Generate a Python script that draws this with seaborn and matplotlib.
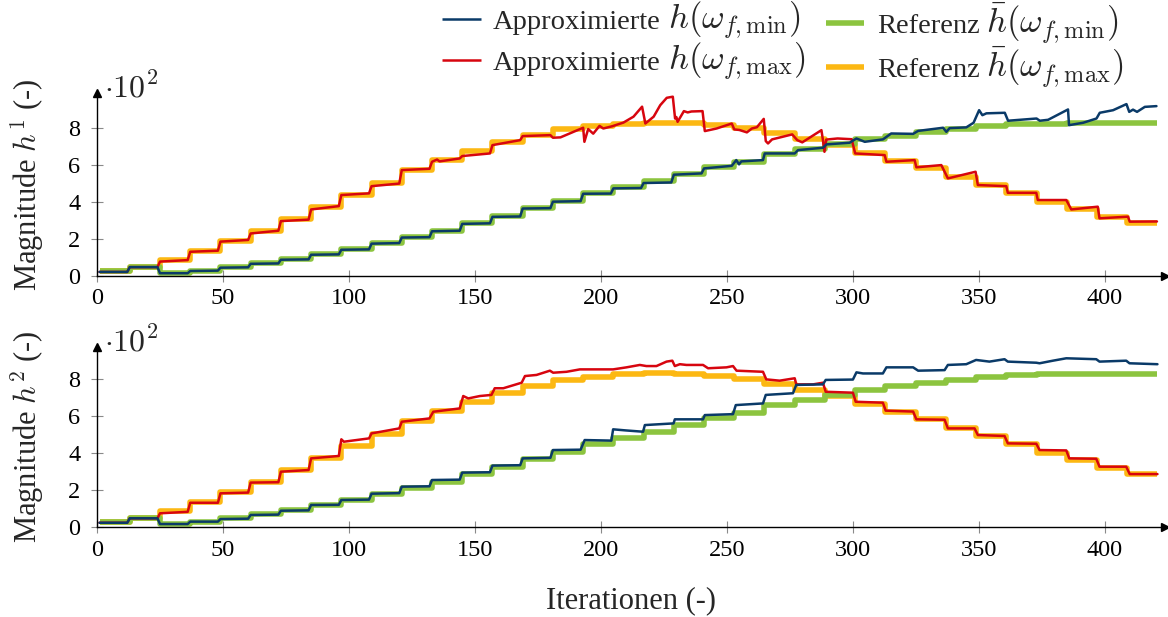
import numpy as np
import pandas as pd
import matplotlib
matplotlib.use("Agg")
import matplotlib.pyplot as plt
from matplotlib.lines import Line2D
from matplotlib.offsetbox import (AnchoredOffsetbox, DrawingArea, HPacker,
                                  TextArea, VPacker)
import seaborn as sns

# Reference magnitudes (in units of 10^2), one value per 12-iteration block
ref_min = [0.25, 0.5, 0.17, 0.29, 0.48, 0.7, 0.9, 1.17, 1.44, 1.78, 2.12, 2.45,
           2.85, 3.24, 3.69, 4.07, 4.47, 4.79, 5.15, 5.51, 5.88, 6.18, 6.58,
           6.88, 7.14, 7.41, 7.6, 7.8, 7.95, 8.1, 8.2, 8.25, 8.27, 8.28, 8.28]
ref_max = [0.25, 0.5, 0.85, 1.37, 1.9, 2.45, 3.1, 3.75, 4.4, 5.05, 5.73, 6.27,
           6.77, 7.26, 7.62, 7.93, 8.12, 8.25, 8.3, 8.28, 8.16, 7.98, 7.71,
           7.39, 7.08, 6.67, 6.24, 5.82, 5.37, 4.92, 4.47, 4.02, 3.62, 3.21, 2.85]
block_edges = np.arange(1, 422, 12)

# Approximated magnitude h^1 (vertices: iteration, value in 10^2)
h1_min_it = [1, 12, 13, 24, 25, 36, 37, 48, 49, 60, 61, 72, 73, 84, 85, 96, 97, 108,
             109, 120, 121, 132, 133, 144, 145, 156, 157, 168, 169, 180, 181, 192,
             193, 204, 205, 216, 217, 228, 229, 240, 241, 252, 253.8, 254.9, 255.8,
             264.4, 265.1, 277, 278.3, 288.2, 289.6, 298.8, 301.5, 304.8, 312, 315.3,
             324, 326, 335.9, 337.2, 338.5, 345.1, 348, 350.2, 351.5, 353.1, 360.4,
             361.7, 373, 374.3, 377.6, 385.5, 385.9, 391.5, 396.8, 398.1, 403.4,
             408.7, 409.8, 411.3, 412.9, 416, 420.6]
h1_min_val = [0.22, 0.22, 0.48, 0.48, 0.15, 0.15, 0.27, 0.29, 0.45, 0.47, 0.66, 0.68,
              0.88, 0.9, 1.15, 1.17, 1.42, 1.44, 1.75, 1.78, 2.08, 2.1, 2.42, 2.45,
              2.82, 2.85, 3.2, 3.22, 3.65, 3.67, 4.02, 4.05, 4.45, 4.46, 4.74, 4.76,
              5.03, 5.06, 5.48, 5.55, 5.82, 5.96, 6.27, 6.04, 6.2, 6.27, 6.63, 6.63,
              6.81, 6.94, 7.12, 7.21, 7.44, 7.26, 7.39, 7.71, 7.69, 7.85, 8.02, 7.8,
              8.0, 8.04, 8.29, 8.97, 8.7, 8.8, 8.83, 8.4, 8.52, 8.4, 8.45, 9.01, 8.16,
              8.29, 8.52, 8.83, 8.97, 9.3, 8.88, 9.0, 8.88, 9.15, 9.19]

h1_max_it = [1, 12, 13, 24, 25, 36, 37, 48, 49, 60, 61, 72, 73, 84, 85, 96, 97, 108,
             109, 120, 121, 132, 133, 135, 136, 144, 145, 156, 157, 168, 169, 180,
             181, 184, 193, 193.5, 195, 197, 199.5, 201, 204.5, 209, 213, 216.4,
             217.7, 221, 223.6, 226.2, 228.6, 229.5, 230, 230.5, 233, 234.5, 236,
             240.4, 241.3, 246, 252, 253, 255, 258, 260, 262, 264.7, 265.5, 266.4,
             268, 276, 278, 280, 287.6, 288.2, 288.8, 289.5, 294, 299.6, 301, 312.7,
             313.4, 324.6, 325.3, 335.2, 337.8, 348.8, 349.7, 361, 361.6, 372.9,
             373.5, 384.8, 386.8, 397.3, 398, 409.3, 410, 420.8]
h1_max_val = [0.22, 0.22, 0.48, 0.48, 0.78, 0.86, 1.31, 1.37, 1.86, 1.95, 2.3, 2.45,
              2.97, 3.05, 3.6, 3.78, 4.38, 4.47, 4.86, 5.0, 5.73, 5.8, 6.18, 6.3, 6.2,
              6.36, 6.49, 6.63, 7.08, 7.35, 7.57, 7.62, 7.48, 7.5, 8.02, 7.26, 7.95,
              7.7, 8.12, 7.98, 8.1, 8.3, 8.62, 9.16, 8.25, 8.62, 9.24, 9.64, 9.7,
              8.52, 8.6, 8.34, 8.92, 8.85, 8.9, 8.92, 7.84, 7.98, 8.25, 7.93, 7.9,
              7.77, 7.98, 8.05, 8.5, 7.3, 7.17, 7.39, 7.66, 7.35, 7.23, 7.89, 7.35,
              6.72, 7.38, 7.44, 7.4, 6.63, 6.54, 6.18, 6.27, 5.88, 6.0, 5.28, 5.64,
              4.92, 4.86, 4.5, 4.5, 4.11, 4.11, 3.6, 3.75, 3.12, 3.21, 2.94, 2.95]

# Approximated magnitude h^2 (vertices: iteration, value in 10^2)
h2_min_it = [1, 12, 13, 24, 25, 36, 37, 48, 49, 60, 61, 72, 73, 84, 85, 96, 97, 108,
             109, 120, 121, 132, 133, 144, 145, 156, 157, 168, 169, 180, 181, 192,
             193.6, 204.2, 204.9, 210, 216.8, 217.5, 228.9, 229.4, 240.6, 241.3,
             252.5, 253.6, 264.4, 265.5, 276.3, 277.6, 288.2, 289.3, 300.1, 301.5,
             304.1, 312, 313.4, 324, 326, 336.5, 337.8, 345.1, 349, 354.3, 360.3,
             361.6, 372.9, 374.2, 379.5, 384.8, 396.7, 398, 408.6, 409.9, 421]
h2_min_val = [0.23, 0.23, 0.47, 0.47, 0.16, 0.16, 0.29, 0.29, 0.43, 0.45, 0.65, 0.67,
              0.88, 0.9, 1.19, 1.2, 1.46, 1.48, 1.8, 1.83, 2.18, 2.2, 2.54, 2.56,
              2.94, 2.96, 3.32, 3.34, 3.71, 3.74, 4.16, 4.18, 4.7, 4.67, 5.28, 5.22,
              5.15, 5.51, 5.6, 5.82, 5.82, 6.05, 6.1, 6.59, 6.68, 7.14, 7.23, 7.68,
              7.71, 7.95, 7.97, 8.36, 8.3, 8.3, 8.63, 8.63, 8.45, 8.48, 8.76, 8.8,
              9.03, 8.94, 9.07, 8.94, 8.88, 8.85, 8.99, 9.12, 9.07, 8.94, 8.99, 8.85,
              8.8]

h2_max_it = [1, 12, 13, 24, 25, 36, 37, 48, 49, 60, 61, 72, 73, 84, 85, 96, 97, 98,
             108, 109, 120, 121, 132, 133.5, 144, 145.4, 147.4, 152, 156.6, 157.9,
             161.3, 168.6, 169.9, 174.5, 179.8, 181.1, 186.4, 191.7, 204.9, 210.2,
             215.5, 218.1, 222.1, 226.1, 228.4, 229.4, 231.4, 234, 240.6, 242.6,
             249.9, 252.5, 253.9, 264.4, 265.7, 271, 277, 277.6, 284.3, 288.2, 289.3,
             300.1, 301.2, 312, 313.1, 324, 325.3, 336.5, 337.8, 348.4, 349.7, 360.3,
             361.6, 372.9, 374.2, 384.8, 386, 396.7, 398, 408.6, 410, 421]
h2_max_val = [0.23, 0.23, 0.47, 0.47, 0.74, 0.82, 1.31, 1.31, 1.82, 1.86, 2.4, 2.42,
              2.99, 3.08, 3.71, 3.84, 4.74, 4.61, 4.79, 5.06, 5.33, 5.69, 5.87, 6.23,
              6.41, 7.08, 6.95, 7.08, 7.14, 7.5, 7.5, 7.8, 8.16, 8.22, 8.45, 8.34,
              8.39, 8.52, 8.52, 8.63, 8.76, 8.7, 8.7, 8.94, 8.99, 8.7, 8.8, 8.76,
              8.76, 8.58, 8.63, 8.7, 8.45, 8.39, 7.98, 7.91, 8.04, 7.71, 7.71, 7.8,
              7.31, 7.26, 6.77, 6.72, 6.29, 6.24, 5.82, 5.8, 5.33, 5.33, 4.97, 4.92,
              4.52, 4.5, 4.16, 4.14, 3.71, 3.69, 3.26, 3.26, 2.86, 2.86]

x_ticks = [0, 50, 100, 150, 200, 250, 300, 350, 400]
y_ticks = [0, 2, 4, 6, 8]

legend_words = ["Approximierte", "Approximierte", "Referenz", "Referenz"]
legend_math = [r"$h(\omega_{f,\mathrm{min}})$",
               r"$h(\omega_{f,\mathrm{max}})$",
               r"$\bar{h}(\omega_{f,\mathrm{min}})$",
               r"$\bar{h}(\omega_{f,\mathrm{max}})$"]

C_MIN = "#0a3a68"
C_MAX = "#d7050f"
C_REF_MIN = "#8cc43f"
C_REF_MAX = "#fcb813"
LW_APPROX = 1.8
LW_REF = 4.0

sns.set_style("ticks")
plt.rcParams["font.family"] = ["Liberation Serif", "DejaVu Serif"]
plt.rcParams["mathtext.fontset"] = "cm"
plt.rcParams["font.size"] = 18

fig = plt.figure(figsize=(11.68, 6.17), dpi=100)
W, H = 1168, 617
ax_top = fig.add_axes([97 / W, (H - 276) / H, 1068 / W, 183 / H])
ax_bot = fig.add_axes([97 / W, (H - 527) / H, 1068 / W, 180 / H])

panels = [
    (ax_top, h1_min_it, h1_min_val, h1_max_it, h1_max_val, r"Magnitude $h^1$ (-)", 9.9),
    (ax_bot, h2_min_it, h2_min_val, h2_max_it, h2_max_val, r"Magnitude $h^2$ (-)", 9.73),
]

for ax, mn_it, mn_v, mx_it, mx_v, ylab, ytop in panels:
    step_kw = dict(drawstyle="steps-post", lw=LW_REF, solid_capstyle="butt", ax=ax)
    sns.lineplot(x=block_edges, y=np.append(ref_max, ref_max[-1]), color=C_REF_MAX,
                 **step_kw)
    sns.lineplot(x=block_edges, y=np.append(ref_min, ref_min[-1]), color=C_REF_MIN,
                 **step_kw)
    d_max = pd.DataFrame({"it": mx_it, "val": mx_v})
    d_min = pd.DataFrame({"it": mn_it, "val": mn_v})
    sns.lineplot(data=d_max, x="it", y="val", sort=False, estimator=None,
                 color=C_MAX, lw=LW_APPROX, ax=ax)
    sns.lineplot(data=d_min, x="it", y="val", sort=False, estimator=None,
                 color=C_MIN, lw=LW_APPROX, ax=ax)

    ax.set_xlim(0, 424)
    ax.set_ylim(0, ytop)
    ax.set_xticks(x_ticks)
    ax.set_yticks(y_ticks)
    ax.tick_params(direction="inout", length=8, width=0.8, color="#8a8a8a",
                   labelcolor="black", labelsize=17.5)
    ax.tick_params(axis="x", pad=5)
    ax.tick_params(axis="y", pad=8)
    ax.set_xlabel("")
    ax.set_ylabel(ylab, fontsize=22)
    ax.yaxis.set_label_coords(-0.048, 0.5)
    for side in ("top", "right"):
        ax.spines[side].set_visible(False)
    for side in ("left", "bottom"):
        ax.spines[side].set_linewidth(1.0)
        ax.spines[side].set_color("black")
    # arrow heads on the axis lines
    ax.plot(1, 0, ">k", ms=6, transform=ax.transAxes, clip_on=False)
    ax.plot(0, 1, "^k", ms=6, transform=ax.transAxes, clip_on=False)
    ax.text(0.007, 0.975, r"$\cdot 10^2$", transform=ax.transAxes, ha="left",
            va="baseline", fontsize=23)

ax_bot.set_xlabel("Iterationen (-)", fontsize=22)
ax_bot.xaxis.set_label_coords(0.5, -0.33)


# Two-column legend above the upper panel: line sample, word, formula
def legend_entry(color, lw, word, math):
    sample = DrawingArea(27.5, 14, 0, 3)
    sample.add_artist(Line2D([0, 27.5], [7, 7], color=color, lw=lw,
                             solid_capstyle="butt"))
    label = HPacker(children=[TextArea(word, textprops=dict(fontsize=20.5)),
                              TextArea(math, textprops=dict(fontsize=25))],
                    align="baseline", pad=0, sep=5)
    return HPacker(children=[sample, label], align="baseline", pad=0, sep=9)


entries = [legend_entry(c, lw, w, m) for c, lw, w, m in zip(
    [C_MIN, C_MAX, C_REF_MIN, C_REF_MAX],
    [LW_APPROX, LW_APPROX, LW_REF, LW_REF], legend_words, legend_math)]
col1 = VPacker(children=entries[:2], align="left", pad=0, sep=-1)
col2 = VPacker(children=entries[2:], align="left", pad=0, sep=-1)
legend_box = HPacker(children=[col1, col2], align="top", pad=0, sep=15)
anchored = AnchoredOffsetbox(loc="upper right", child=legend_box, pad=0,
                             borderpad=0, frameon=False,
                             bbox_to_anchor=(1124 / W, 1.0),
                             bbox_transform=fig.transFigure)
fig.add_artist(anchored)

fig.savefig("out.png", dpi=100)
